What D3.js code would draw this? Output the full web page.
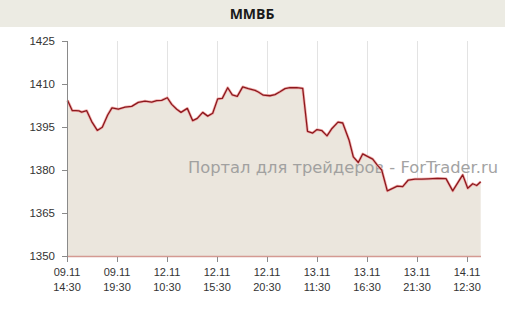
<!DOCTYPE html>
<html>
<head>
<meta charset="utf-8" />
<title>ММВБ</title>
<style>
    body { margin: 0; background: #fff; }
    svg text { font-family: "Liberation Sans", Arial, sans-serif; }
</style>
</head>
<body>
<svg></svg>
<script src="https://d3js.org/d3.v7.min.js"></script>
<script>
    // hours from 09.11 14:30 (trading hours only) and index values
    const hours = [0.05, 0.53, 0.9, 1.2, 1.47, 1.97, 2.47, 3.03, 3.53, 4.07, 4.5, 5.13, 5.8, 6.47, 7.13, 7.8,
        8.47, 8.97, 9.47, 10.03, 10.47, 10.97, 11.4, 12.03, 12.57, 13.03, 13.57, 14.07, 14.57, 15.07, 15.53,
        16.07, 16.53, 17.03, 17.57, 18.13, 18.8, 19.13, 19.63, 20.3, 20.8, 21.3, 21.8, 22.3, 22.97, 23.57,
        24.05, 24.57, 25.0, 25.5, 26.0, 26.5, 27.1, 27.57, 28.2, 28.63, 29.13, 29.57, 30.13, 30.57, 31.03,
        31.47, 32.03, 32.57, 33.03, 33.57, 34.13, 34.8, 35.47, 36.13, 37.03, 37.9, 38.57, 39.57, 40.07,
        40.57, 40.97, 41.37];
    const values = [1404.3, 1400.7, 1400.7, 1400.6, 1400.2, 1400.7, 1396.9, 1393.8, 1394.9, 1399.2, 1401.7,
        1401.2, 1401.9, 1402.2, 1403.6, 1404.0, 1403.7, 1404.2, 1404.3, 1405.2, 1402.9, 1401.2, 1400.1,
        1401.5, 1397.2, 1398.0, 1400.1, 1398.8, 1399.8, 1404.8, 1405.0, 1408.7, 1406.2, 1405.7, 1409.0,
        1408.4, 1407.8, 1407.2, 1406.1, 1405.9, 1406.3, 1407.3, 1408.4, 1408.7, 1408.7, 1408.5, 1393.5,
        1392.9, 1394.1, 1393.7, 1391.9, 1394.5, 1396.7, 1396.4, 1390.5, 1384.6, 1382.6, 1385.6, 1384.6,
        1383.8, 1381.7, 1380.0, 1372.7, 1373.6, 1374.4, 1374.2, 1376.5, 1376.8, 1376.8, 1376.9, 1377.1,
        1377.0, 1372.7, 1378.3, 1373.6, 1375.2, 1374.6, 1375.9];
    const tickHours = [0, 5, 10, 15, 20, 25, 30, 35, 40];
    const tickDates = ["09.11", "09.11", "12.11", "12.11", "12.11", "13.11", "13.11", "13.11", "14.11"];
    const tickTimes = ["14:30", "19:30", "10:30", "15:30", "20:30", "11:30", "16:30", "21:30", "12:30"];
    const yTicks = [1350, 1365, 1380, 1395, 1410, 1425];

    let width = 505, height = 311;
    let svg = d3.select("svg").attr("width", width).attr("height", height);

    let x = d3.scaleLinear().domain([0, 41.4]).range([67, 481]);
    let y = d3.scaleLinear().domain([1350, 1425]).range([256, 41]);

    // title bar
    svg.append("rect").attr("x", 0).attr("y", 0).attr("width", width).attr("height", 27).attr("fill", "#ecebe3");
    svg.append("text").attr("x", 252).attr("y", 19).attr("text-anchor", "middle")
        .style("font-family", "'Open Sans', sans-serif").style("font-size", "14px").style("font-weight", "bold")
        .attr("fill", "#1a1a1a").text("ММВБ");

    // vertical grid
    svg.append("g").selectAll("line").data(tickHours.slice(1)).join("line")
        .attr("x1", d => x(d) + 0.5).attr("x2", d => x(d) + 0.5)
        .attr("y1", y(1425)).attr("y2", y(1350))
        .attr("stroke", "#e3e3e3");

    let data = hours.map((h, i) => ({ h: h, v: values[i] }));

    let area = d3.area().x(d => x(d.h)).y0(y(1350)).y1(d => y(d.v));
    let line = d3.line().x(d => x(d.h)).y(d => y(d.v));

    svg.append("path").datum(data).attr("d", area).attr("fill", "#ebe6dd");

    // watermark
    svg.append("text").attr("x", 188).attr("y", 173)
        .attr("textLength", 310).attr("lengthAdjust", "spacingAndGlyphs")
        .style("font-family", "'DejaVu Sans', sans-serif").style("font-size", "15px")
        .attr("fill", "#9a9a9a").attr("opacity", 0.9)
        .text("Портал для трейдеров - ForTrader.ru");

    svg.append("path").datum(data).attr("d", line).attr("fill", "none")
        .attr("stroke", "#f0b0ae").attr("stroke-width", 2.8).attr("stroke-linejoin", "round");
    svg.append("path").datum(data).attr("d", line).attr("fill", "none")
        .attr("stroke", "#8c181d").attr("stroke-width", 1.3).attr("stroke-linejoin", "round");

    // x baseline
    svg.append("line").attr("x1", 67).attr("x2", 481).attr("y1", 256.5).attr("y2", 256.5)
        .attr("stroke", "#d49a92").attr("stroke-width", 1.5);

    // y axis
    svg.append("line").attr("x1", 67.5).attr("x2", 67.5).attr("y1", 41).attr("y2", 257)
        .attr("stroke", "#8a8a8a");
    let yg = svg.append("g").selectAll("g").data(yTicks).join("g");
    yg.append("line").attr("x1", 62).attr("x2", 67).attr("y1", d => y(d) + 0.5).attr("y2", d => y(d) + 0.5)
        .attr("stroke", "#8a8a8a");
    yg.append("text").attr("x", 55).attr("y", d => y(d) + 4).attr("text-anchor", "end")
        .style("font-size", "11.5px").attr("fill", "#333").text(d => d);

    // x ticks
    let xg = svg.append("g").selectAll("g").data(tickHours).join("g");
    xg.append("line").attr("x1", d => x(d) + 0.5).attr("x2", d => x(d) + 0.5).attr("y1", 257).attr("y2", 262)
        .attr("stroke", "#8a8a8a");
    xg.append("text").attr("x", d => x(d)).attr("y", 276).attr("text-anchor", "middle")
        .style("font-size", "11px").attr("fill", "#333").text((d, i) => tickDates[i]);
    xg.append("text").attr("x", d => x(d)).attr("y", 291).attr("text-anchor", "middle")
        .style("font-size", "11px").attr("fill", "#333").text((d, i) => tickTimes[i]);
</script>
</body>
</html>
